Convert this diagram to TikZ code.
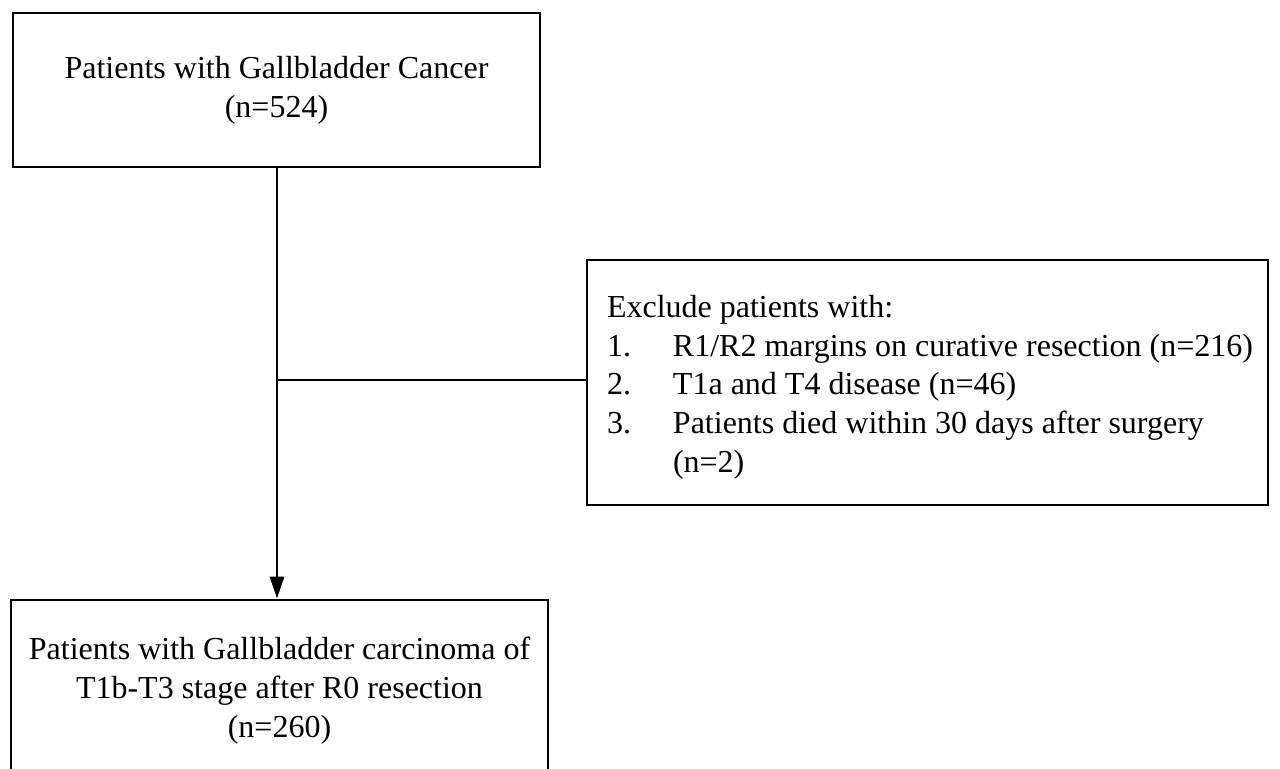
\documentclass[tikz,border=0pt]{standalone}
\usepackage{fontspec}
\setmainfont{Liberation Serif}
\usetikzlibrary{arrows.meta}

\tikzset{
  box/.style={draw, line width=1.4pt, inner sep=0pt, align=center},
  link/.style={line width=1.4pt},
}

\begin{document}
\begin{tikzpicture}[x=0.5pt,y=0.5pt,yscale=-1,xscale=1]
  \useasboundingbox (0,0) rectangle (1280,768);
  \clip (0,0) rectangle (1280,768);
  \fontsize{16}{19.4}\selectfont

  \node [box, minimum width=263.5pt, minimum height=77pt] (cancer) at (276.5,90)
    {Patients with Gallbladder Cancer\\(n=524)};
  \node [box, minimum width=340.5pt, minimum height=122.5pt] (exclude) at (927.5,382.5) {};
  \node [anchor=north west, inner sep=0pt, xshift=10.5pt, yshift=-18pt, align=left] (reasons) at (exclude.north west)
    {Exclude patients with:\\
     \makebox[33pt][l]{1.}R1/R2 margins on curative resection (n=216)\\
     \makebox[33pt][l]{2.}T1a and T4 disease (n=46)\\
     \makebox[33pt][l]{3.}Patients died within 30 days after surgery\\
     \makebox[33pt][l]{}(n=2)};
  \node [box, minimum width=268.5pt, minimum height=90.5pt] (final) at (279.5,690.5)
    {Patients with Gallbladder carcinoma of\\T1b-T3 stage after R0 resection\\(n=260)};

  \coordinate (branch) at (277,380);
  \draw [link, -{Triangle[width=7pt,length=11pt]}] (cancer.south -| branch) -- (final.north -| branch);
  \draw [link] (branch) -- (branch -| exclude.west);
\end{tikzpicture}
\end{document}
